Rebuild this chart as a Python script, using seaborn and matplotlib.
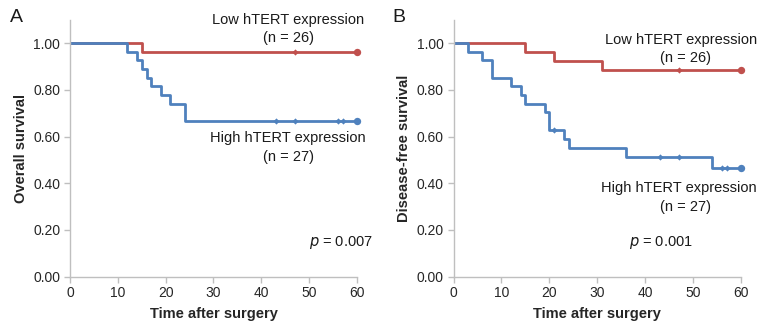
import matplotlib

matplotlib.use("Agg")

import matplotlib.pyplot as plt
import pandas as pd
import seaborn as sns

RED = "#C0504D"
BLUE = "#4F81BD"

# Panel A: overall survival (step times and survival levels)
os_low_time = [0, 15, 60]
os_low_surv = [1.0, 0.962, 0.962]
os_low_cens_time = [47, 60]
os_low_cens_surv = [0.962, 0.962]

os_high_time = [0, 12, 14, 15, 16, 17, 19, 21, 24, 60]
os_high_surv = [1.0, 0.963, 0.926, 0.889, 0.852, 0.815, 0.778, 0.741, 0.667, 0.667]
os_high_cens_time = [43, 47, 56, 57, 60]
os_high_cens_surv = [0.667, 0.667, 0.667, 0.667, 0.667]

# Panel B: disease-free survival
dfs_low_time = [0, 15, 21, 31, 60]
dfs_low_surv = [1.0, 0.962, 0.923, 0.885, 0.885]
dfs_low_cens_time = [47, 60]
dfs_low_cens_surv = [0.885, 0.885]

dfs_high_time = [0, 3, 6, 8, 12, 14, 15, 19, 20, 23, 24, 36, 54, 60]
dfs_high_surv = [1.0, 0.963, 0.926, 0.852, 0.815, 0.778, 0.741, 0.704, 0.630,
                 0.590, 0.551, 0.512, 0.465, 0.465]
dfs_high_cens_time = [21, 43, 47, 56, 57, 60]
dfs_high_cens_surv = [0.630, 0.512, 0.512, 0.465, 0.465, 0.465]

x_ticks = [0, 10, 20, 30, 40, 50, 60]
y_ticks = [0.0, 0.2, 0.4, 0.6, 0.8, 1.0]

sns.set_style("white")
plt.rcParams["font.family"] = ["Liberation Sans", "DejaVu Sans"]


def draw_panel(ax, curves, ylabel):
    for time, surv, cens_t, cens_s, color in curves:
        df = pd.DataFrame({"t": time, "s": surv})
        sns.lineplot(data=df, x="t", y="s", ax=ax, color=color, linewidth=2.0,
                     drawstyle="steps-post", sort=False, estimator=None)
        cens = pd.DataFrame({"t": cens_t[:-1], "s": cens_s[:-1]})
        sns.scatterplot(data=cens, x="t", y="s", ax=ax, color=color, marker="D",
                        s=10, linewidth=0, zorder=3)
        last = pd.DataFrame({"t": cens_t[-1:], "s": cens_s[-1:]})
        sns.scatterplot(data=last, x="t", y="s", ax=ax, color=color, marker="o",
                        s=28, linewidth=0, zorder=3, clip_on=False)
    ax.set_xlim(0, 60)
    ax.set_ylim(0, 1.1)
    ax.set_xticks(x_ticks)
    ax.set_yticks(y_ticks)
    ax.set_yticklabels([f"{v:.2f}" for v in y_ticks])
    ax.set_xlabel("Time after surgery", fontsize=10.5, fontweight="bold", labelpad=5)
    ax.set_ylabel(ylabel, fontsize=10.5, fontweight="bold", labelpad=4)
    for side in ["top", "right"]:
        ax.spines[side].set_visible(False)
    for side in ["left", "bottom"]:
        ax.spines[side].set_color("#BFBFBF")
        ax.spines[side].set_linewidth(1.0)
    ax.tick_params(axis="both", direction="out", length=4, width=1.0, color="#BFBFBF",
                   labelsize=10, labelcolor="#262626", pad=3, left=True, bottom=True)


fig = plt.figure(figsize=(7.61, 3.25), dpi=100)
ax_a = fig.add_axes([0.092, 0.149, 0.377, 0.79])
ax_b = fig.add_axes([0.596, 0.149, 0.378, 0.79])

draw_panel(ax_a, [
    (os_low_time, os_low_surv, os_low_cens_time, os_low_cens_surv, RED),
    (os_high_time, os_high_surv, os_high_cens_time, os_high_cens_surv, BLUE),
], "Overall survival")

draw_panel(ax_b, [
    (dfs_low_time, dfs_low_surv, dfs_low_cens_time, dfs_low_cens_surv, RED),
    (dfs_high_time, dfs_high_surv, dfs_high_cens_time, dfs_high_cens_surv, BLUE),
], "Disease-free survival")

txt = dict(fontsize=10.5, color="#1a1a1a", clip_on=False, va="center")

ax_a.text(45.6, 1.10, "Low hTERT expression", ha="center", **txt)
ax_a.text(45.6, 1.022, "(n = 26)", ha="center", **txt)
ax_a.text(45.6, 0.594, "High hTERT expression", ha="center", **txt)
ax_a.text(45.6, 0.513, "(n = 27)", ha="center", **txt)
ax_a.text(63.4, 0.144, r"$p$ = 0.007", ha="right", **txt)

ax_b.text(63.3, 1.014, "Low hTERT expression", ha="right", **txt)
ax_b.text(48.4, 0.936, "(n = 26)", ha="center", **txt)
ax_b.text(63.3, 0.38, "High hTERT expression", ha="right", **txt)
ax_b.text(48.4, 0.30, "(n = 27)", ha="center", **txt)
ax_b.text(36.5, 0.144, r"$p$ = 0.001", ha="left", **txt)

fig.text(0.013, 0.945, "A", fontsize=14, color="#1a1a1a", va="center")
fig.text(0.516, 0.945, "B", fontsize=14, color="#1a1a1a", va="center")

plt.savefig("out.png", dpi=100)
plt.close()
